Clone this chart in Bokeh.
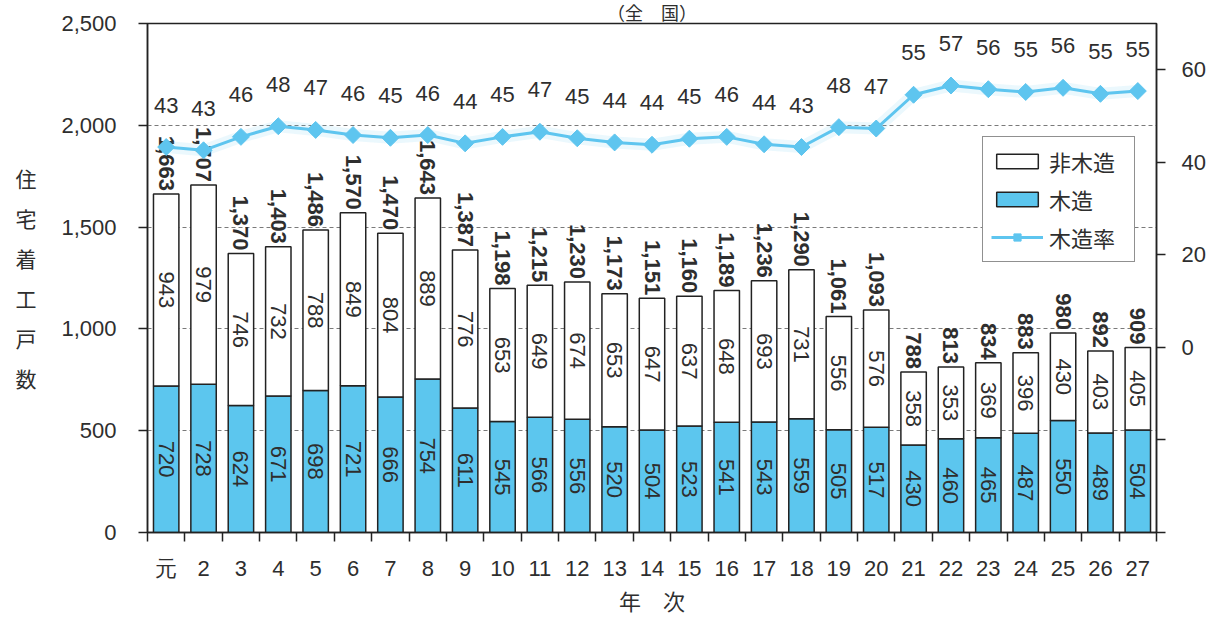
import math
from bokeh.plotting import figure
from bokeh.models import (ColumnDataSource, Range1d, LinearAxis, FixedTicker,
                          NumeralTickFormatter, Legend, LegendItem)
from bokeh.core.properties import value
from bokeh.embed import file_html
from bokeh.resources import INLINE

# ---------------- data ----------------
years = ["元", "2", "3", "4", "5", "6", "7", "8", "9", "10", "11", "12", "13", "14",
         "15", "16", "17", "18", "19", "20", "21", "22", "23", "24", "25", "26", "27"]
wood = [720, 728, 624, 671, 698, 721, 666, 754, 611, 545, 566, 556, 520, 504,
        523, 541, 543, 559, 505, 517, 430, 460, 465, 487, 550, 489, 504]
nonwood = [943, 979, 746, 732, 788, 849, 804, 889, 776, 653, 649, 674, 653, 647,
           637, 648, 693, 731, 556, 576, 358, 353, 369, 396, 430, 403, 405]
totals = [1663, 1707, 1370, 1403, 1486, 1570, 1470, 1643, 1387, 1198, 1215, 1230, 1173, 1151,
          1160, 1189, 1236, 1290, 1061, 1093, 788, 813, 834, 883, 980, 892, 909]
rate = [43.3, 42.6, 45.5, 47.8, 47.0, 45.9, 45.3, 45.9, 44.1, 45.5, 46.6, 45.2, 44.3, 43.8,
        45.1, 45.5, 43.9, 43.3, 47.6, 47.3, 54.6, 56.6, 55.8, 55.2, 56.1, 54.8, 55.4]
rate_labels = [43, 43, 46, 48, 47, 46, 45, 46, 44, 45, 47, 45, 44, 44,
               45, 46, 44, 43, 48, 47, 55, 57, 56, 55, 56, 55, 55]
y_ticks = [0, 500, 1000, 1500, 2000, 2500]
rate_ticks = [-40, -20, 0, 20, 40, 60]
legend_labels = ["非木造", "木造", "木造率"]
title_text = "（全　国）"
y_label = "住宅着工戸数"
x_label = "年　次"

BLUE = "#5cc6ee"
LINEC = "#5ec5ef"
TXT = "#2e2e2e"
LATIN = "Liberation Sans"
CJK = "Noto Sans CJK JP"
MIXED = "'Liberation Sans', 'Noto Sans CJK JP'"

xs = list(range(1, len(years) + 1))
src = ColumnDataSource(dict(
    x=xs,
    wood=wood,
    top=[w + n for w, n in zip(wood, nonwood)],
    wood_mid=[w / 2 for w in wood],
    non_mid=[w + n / 2 for w, n in zip(wood, nonwood)],
    wood_txt=[str(v) for v in wood],
    non_txt=[str(v) for v in nonwood],
    total=totals,
    total_txt=[f"{v:,}" for v in totals],
    rate=rate,
    rate_txt=[str(v) for v in rate_labels],
))

p = figure(width=1209, height=617, x_range=Range1d(0.5, len(years) + 0.5),
           y_range=Range1d(0, 2500), output_backend="svg", toolbar_location=None,
           min_border_left=147, min_border_right=53, min_border_top=23,
           min_border_bottom=85)
p.extra_y_ranges = {"rate": Range1d(-40, 70)}
p.background_fill_color = "white"
p.border_fill_color = "white"
p.outline_line_color = "#222222"
p.outline_line_width = 1.5

# title (small, at the very top)
p.title.text = title_text
p.title.align = "center"
p.title.text_font = MIXED
p.title.text_font_size = "18px"
p.title.text_font_style = "normal"
p.title.text_color = TXT
p.title.standoff = 0

# grid
p.xgrid.grid_line_color = None
p.ygrid.ticker = FixedTicker(ticks=y_ticks[1:-1])
p.ygrid.grid_line_color = "#7a7a7a"
p.ygrid.grid_line_dash = "4 3"
p.ygrid.grid_line_width = 1

# left axis
ya = p.yaxis[0]
ya.ticker = FixedTicker(ticks=y_ticks)
ya.formatter = NumeralTickFormatter(format="0,0")
ya.major_tick_out = 9
ya.major_tick_in = 0
ya.minor_tick_line_color = None
ya.axis_line_color = "#222222"
ya.axis_line_width = 1.5
ya.major_tick_line_color = "#222222"
ya.major_tick_line_width = 1.5
ya.major_label_standoff = 22
ya.major_label_text_font = LATIN
ya.major_label_text_font_size = "22px"
ya.major_label_text_color = TXT
ya.axis_label = "\n".join(y_label)
ya.axis_label_orientation = "horizontal"
ya.axis_label_text_font = CJK
ya.axis_label_text_font_size = "21px"
ya.axis_label_text_font_style = "normal"
ya.axis_label_text_line_height = 1.33
ya.axis_label_text_color = TXT
ya.axis_label_standoff = 22

# bottom axis
xa = p.xaxis[0]
xa.ticker = FixedTicker(ticks=xs, minor_ticks=[i + 0.5 for i in range(len(years) + 1)])
xa.major_label_overrides = {i: years[i - 1] for i in xs}
xa.major_tick_line_color = None
xa.major_tick_out = 0
xa.major_tick_in = 0
xa.minor_tick_out = 9
xa.minor_tick_in = 0
xa.minor_tick_line_color = "#222222"
xa.minor_tick_line_width = 1.5
xa.axis_line_color = "#222222"
xa.axis_line_width = 1.5
xa.major_label_standoff = 14
xa.major_label_text_font = LATIN
xa.major_label_text_font_size = "22px"
xa.major_label_text_color = TXT
xa.axis_label = x_label
xa.axis_label_text_font = MIXED
xa.axis_label_text_font_size = "22px"
xa.axis_label_text_font_style = "normal"
xa.axis_label_text_color = TXT
xa.axis_label_standoff = 6

# right axis
ra = LinearAxis(y_range_name="rate", ticker=FixedTicker(ticks=rate_ticks),
                major_label_overrides={-40: "", -20: ""})
ra.major_tick_out = 9
ra.major_tick_in = 0
ra.minor_tick_line_color = None
ra.axis_line_color = "#222222"
ra.axis_line_width = 1.5
ra.major_tick_line_color = "#222222"
ra.major_tick_line_width = 1.5
ra.major_label_standoff = 16
ra.major_label_text_font = LATIN
ra.major_label_text_font_size = "22px"
ra.major_label_text_color = TXT
p.add_layout(ra, "right")

# bars
bar_w = p.vbar(x="x", bottom=0, top="wood", width=0.68, source=src,
               fill_color=BLUE, line_color="#222222", line_width=1.5)
bar_n = p.vbar(x="x", bottom="wood", top="top", width=0.68, source=src,
               fill_color="white", line_color="#222222", line_width=1.5)

# bar labels
common = dict(source=src, angle=-math.pi / 2, text_font=value(LATIN),
              text_font_size="22px", text_color=TXT)
p.text(x="x", y="wood_mid", text="wood_txt", text_align="center",
       text_baseline="middle", **common)
p.text(x="x", y="non_mid", text="non_txt", text_align="center",
       text_baseline="middle", **common)
p.text(x="x", y="total", text="total_txt", text_align="right",
       text_baseline="middle", y_offset=-3, text_font_style="bold", **common)

# rate line
p.line(x="x", y="rate", source=src, y_range_name="rate", line_color=LINEC,
       line_width=12, line_alpha=0.12)
ln = p.line(x="x", y="rate", source=src, y_range_name="rate", line_color=LINEC,
            line_width=3)
mk = p.scatter(x="x", y="rate", source=src, y_range_name="rate", marker="square",
               angle=math.pi / 4, size=12, fill_color=LINEC, line_color=LINEC)
p.text(x="x", y="rate", text="rate_txt", source=src, y_range_name="rate",
       text_align="center", text_baseline="middle", y_offset=-42,
       text_font=value(LATIN), text_font_size="22px", text_color=TXT)

# legend
legend = Legend(items=[
    LegendItem(label=legend_labels[0], renderers=[bar_n]),
    LegendItem(label=legend_labels[1], renderers=[bar_w]),
    LegendItem(label=legend_labels[2], renderers=[ln, mk]),
], location=(835, 270))
legend.label_text_font = MIXED
legend.label_text_font_size = "22px"
legend.label_text_color = TXT
legend.glyph_width = 52
legend.glyph_height = 18
legend.label_height = 28
legend.label_width = 77
legend.label_standoff = 6
legend.spacing = 6
legend.padding = 8
legend.margin = 0
legend.border_line_color = "#222222"
legend.border_line_width = 1.5
legend.background_fill_alpha = 1.0
p.add_layout(legend)

open("out.html", "w").write(file_html(p, INLINE))
